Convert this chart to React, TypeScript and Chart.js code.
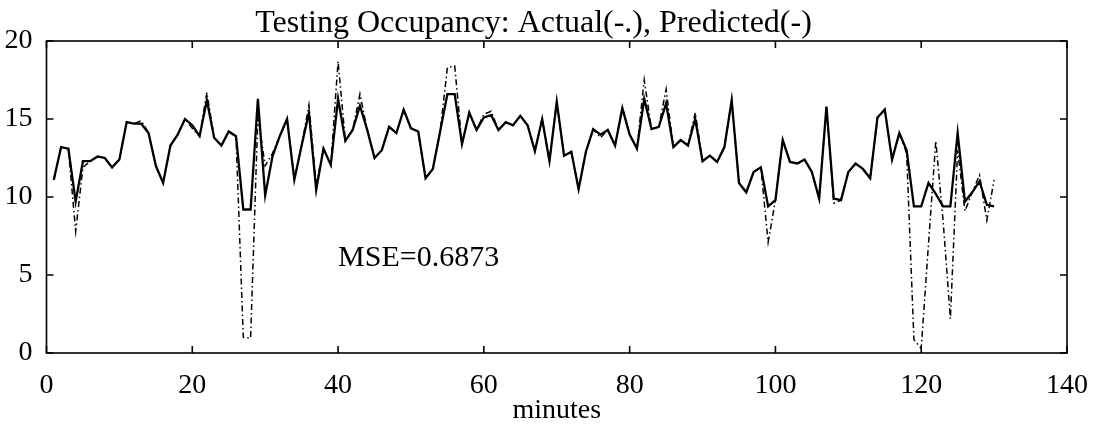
import React, { useEffect, useRef } from "react";
import { Chart, registerables } from "chart.js";
Chart.register(...registerables);

const TITLE = "Testing Occupancy: Actual(-.), Predicted(-)";
const X_LABEL = "minutes";
const MSE_TEXT = "MSE=0.6873";
const X_TICKS = [0, 20, 40, 60, 80, 100, 120, 140];
const Y_TICKS = [0, 5, 10, 15, 20];
const FIRST_MINUTE = 1;

// Predicted occupancy (solid line), minutes 1..130
const predicted = [
  11.1, 13.2, 13.1, 9.7, 12.3, 12.3, 12.6, 12.5, 11.9, 12.4,
  14.8, 14.7, 14.7, 14.1, 12.0, 10.9, 13.3, 14.0, 15.0, 14.6,
  13.9, 16.2, 13.8, 13.3, 14.2, 13.9, 9.2, 9.2, 16.3, 10.1,
  12.6, 13.9, 15.0, 11.1, 13.3, 15.4, 10.45, 13.1, 12.05, 16.3,
  13.6, 14.3, 15.85, 14.3, 12.5, 13.0, 14.5, 14.1, 15.6, 14.4,
  14.2, 11.2, 11.8, 14.2, 16.6, 16.6, 13.4, 15.4, 14.3, 15.1,
  15.25, 14.3, 14.8, 14.6, 15.2, 14.6, 12.95, 15.0, 12.3, 16.1,
  12.65, 12.9, 10.5, 12.9, 14.35, 14.0, 14.3, 13.3, 15.7, 14.0,
  13.1, 16.3, 14.35, 14.5, 16.0, 13.2, 13.65, 13.3, 15.0, 12.3,
  12.65, 12.25, 13.2, 16.2, 10.9, 10.3, 11.6, 11.9, 9.4, 9.8,
  13.65, 12.25, 12.15, 12.4, 11.6, 9.9, 15.8, 9.9, 9.8, 11.6,
  12.15, 11.8, 11.2, 15.1, 15.6, 12.4, 14.1, 13.0, 9.4, 9.4,
  10.9, 10.2, 9.4, 9.4, 14.1, 9.7, 10.3, 11.0, 9.5, 9.4,
];

// Actual occupancy (dash-dot line), minutes 1..130
const actual = [
  11.1, 13.2, 13.1, 7.8, 11.9, 12.3, 12.6, 12.5, 11.9, 12.4,
  14.8, 14.7, 14.9, 14.1, 12.0, 10.9, 13.3, 14.0, 15.0, 14.4,
  13.9, 16.7, 13.8, 13.3, 14.2, 13.9, 1.0, 0.95, 15.2, 12.0,
  12.8, 13.9, 15.0, 11.1, 13.3, 15.9, 10.8, 13.1, 12.05, 18.7,
  13.6, 14.3, 16.6, 14.3, 12.5, 13.0, 14.5, 14.1, 15.6, 14.4,
  14.2, 11.2, 11.8, 14.2, 18.3, 18.4, 13.4, 15.4, 14.3, 15.3,
  15.5, 14.3, 14.8, 14.6, 15.2, 14.6, 12.95, 15.0, 12.3, 16.1,
  12.65, 12.9, 10.5, 12.9, 14.35, 13.8, 14.3, 13.3, 15.7, 14.0,
  13.1, 17.5, 14.35, 14.5, 16.9, 13.2, 13.65, 13.3, 15.4, 12.3,
  12.65, 12.25, 13.2, 16.2, 10.9, 10.3, 11.6, 11.9, 7.1, 9.8,
  13.65, 12.25, 12.15, 12.4, 11.6, 9.9, 15.8, 9.6, 9.8, 11.6,
  12.15, 11.8, 11.2, 15.1, 15.6, 12.4, 14.1, 12.8, 0.85, 0.3,
  7.0, 13.6, 8.5, 2.2, 13.0, 9.1, 10.3, 11.4, 8.5, 11.1,
];

const FONT = "'Liberation Serif', 'Times New Roman', serif";

export default function App() {
  const ref = useRef<HTMLCanvasElement>(null);

  useEffect(() => {
    document.body.style.margin = "0";
    const canvas = ref.current;
    if (!canvas) return;
    const minutes = predicted.map((_, i) => i + FIRST_MINUTE);

    const boxPlugin = {
      id: "matlabBox",
      afterDatasetsDraw(chart: any) {
        const { ctx, chartArea: a, scales } = chart;
        ctx.save();
        ctx.strokeStyle = "#000";
        ctx.lineWidth = 1.6;
        ctx.strokeRect(a.left, a.top, a.right - a.left, a.bottom - a.top);
        const tl = 7;
        ctx.beginPath();
        for (const t of X_TICKS) {
          const x = scales.x.getPixelForValue(t);
          ctx.moveTo(x, a.bottom);
          ctx.lineTo(x, a.bottom - tl);
          ctx.moveTo(x, a.top);
          ctx.lineTo(x, a.top + tl);
        }
        for (const t of Y_TICKS) {
          const y = scales.y.getPixelForValue(t);
          ctx.moveTo(a.left, y);
          ctx.lineTo(a.left + tl, y);
          ctx.moveTo(a.right, y);
          ctx.lineTo(a.right - tl, y);
        }
        ctx.stroke();
        ctx.fillStyle = "#000";
        ctx.font = `30px ${FONT}`;
        ctx.textAlign = "left";
        ctx.textBaseline = "middle";
        ctx.fillText(MSE_TEXT, scales.x.getPixelForValue(40), scales.y.getPixelForValue(6.1));
        ctx.restore();
      },
    };

    const chart = new Chart(canvas, {
      type: "line",
      data: {
        labels: minutes,
        datasets: [
          {
            label: "Predicted",
            data: minutes.map((m, i) => ({ x: m, y: predicted[i] })),
            borderColor: "#000",
            borderWidth: 2.3,
            pointRadius: 0,
            tension: 0,
            fill: false,
          },
          {
            label: "Actual",
            data: minutes.map((m, i) => ({ x: m, y: actual[i] })),
            borderColor: "#000",
            borderWidth: 1.5,
            borderDash: [6, 3, 1.5, 3],
            pointRadius: 0,
            tension: 0,
            fill: false,
          },
        ],
      },
      options: {
        animation: false,
        responsive: false,
        layout: { padding: { left: 0, right: 32, top: 0, bottom: 0 } },
        plugins: {
          legend: { display: false },
          tooltip: { enabled: false },
          title: {
            display: true,
            text: TITLE,
            color: "#000",
            font: { family: FONT, size: 32, weight: "normal", lineHeight: 1 },
            padding: { top: 8, bottom: 1 },
          },
        },
        scales: {
          x: {
            type: "linear",
            min: 0,
            max: 140,
            afterBuildTicks: (s: any) => {
              s.ticks = X_TICKS.map((v) => ({ value: v }));
            },
            ticks: {
              color: "#000",
              font: { family: FONT, size: 28 },
              padding: 8,
              maxRotation: 0,
            },
            grid: { display: false },
            border: { display: false },
            title: {
              display: true,
              text: X_LABEL,
              color: "#000",
              font: { family: FONT, size: 28 },
              padding: { top: 0, bottom: 8 },
            },
            afterFit: (s: any) => {
              s.height = 82;
            },
          },
          y: {
            min: 0,
            max: 20,
            afterBuildTicks: (s: any) => {
              s.ticks = Y_TICKS.map((v) => ({ value: v }));
            },
            ticks: {
              color: "#000",
              font: { family: FONT, size: 28 },
              padding: 6,
            },
            grid: { display: false },
            border: { display: false },
            afterFit: (s: any) => {
              s.width = 46.5;
            },
          },
        },
      },
      plugins: [boxPlugin],
    });

    return () => chart.destroy();
  }, []);

  return <canvas ref={ref} width={1099} height={435} style={{ display: "block" }} />;
}
